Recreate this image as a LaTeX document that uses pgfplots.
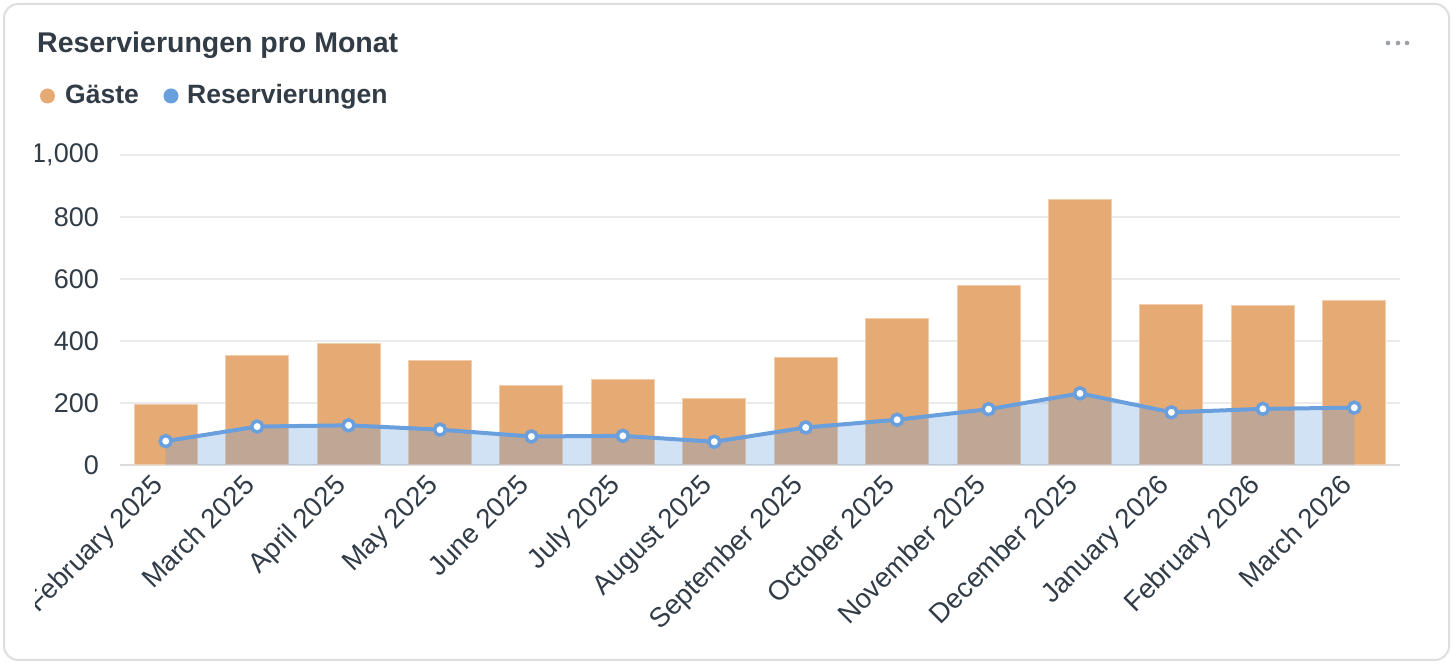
\documentclass[border=0pt]{standalone}
\usepackage{pgfplots}
\pgfplotsset{compat=1.18}
\usepackage{pgfplotstable}
\usepackage{fontspec}
\setmainfont{Liberation Sans}

\definecolor{barorange}{HTML}{E6AA75}
\definecolor{baredge}{HTML}{F3CDAB}
\definecolor{lineblue}{HTML}{6A9FDD}
\definecolor{textdark}{HTML}{313C47}
\definecolor{gridgrey}{HTML}{EBEBEB}
\definecolor{axisgrey}{HTML}{DCDCDC}
\definecolor{cardline}{HTML}{DEDEDE}
\definecolor{dotgrey}{HTML}{9CA1A8}

% Monthly guests and reservations
\pgfplotstableread{
idx gaeste reserv
0   194    77
1   354    124
2   393    128
3   338    114
4   258    92
5   277    94
6   213    75
7   347    121
8   471    146
9   578    180
10  857    231
11  519    170
12  514    181
13  532    185
}\monthly

\begin{document}
\begin{tikzpicture}[x=1pt,y=1pt]
\useasboundingbox (0,0) rectangle (1454,664);
% card frame
\draw[cardline, line width=2pt, rounded corners=14pt] (4,4) rectangle (1449,660);
% title
\node[anchor=base west, inner sep=0pt, text=textdark, font=\fontsize{28.5}{32}\selectfont\bfseries]
  at (37,611) {Reservierungen pro Monat};
% menu dots
\foreach \dx in {1388,1398,1407} \fill[dotgrey] (\dx,621) circle (2.3);
% legend
\fill[barorange] (47.5,568) circle (7.5);
\node[anchor=base west, inner sep=0pt, text=textdark, font=\fontsize{26.5}{30}\selectfont\bfseries]
  at (65,560) {Gäste};
\fill[lineblue] (171,568) circle (7.5);
\node[anchor=base west, inner sep=0pt, text=textdark, font=\fontsize{26.5}{30}\selectfont\bfseries]
  at (187,560) {Reservierungen};

\begin{scope}
\clip (35,6) rectangle (1446,600);
\begin{axis}[
  at={(120pt,199pt)}, anchor=south west,
  scale only axis, width=1280pt, height=310pt,
  xmin=-0.5, xmax=13.5, ymin=0, ymax=1000,
  axis lines*=left,
  y axis line style={draw=none},
  x axis line style={draw=axisgrey, line width=2pt},
  major tick length=0pt,
  ytick={0,200,400,600,800,1000},
  ymajorgrids,
  grid style={draw=gridgrey, line width=1.5pt},
  yticklabel style={font=\fontsize{27}{30}\selectfont, text=textdark,
    anchor=east, inner sep=0pt, xshift=-21pt},
  /pgf/number format/.cd, 1000 sep={,}, assume math mode=true,
  /pgfplots/.cd,
  xtick={0,...,13},
  xticklabels={February 2025, March 2025, April 2025, May 2025, June 2025,
    July 2025, August 2025, September 2025, October 2025, November 2025,
    December 2025, January 2026, February 2026, March 2026},
  xticklabel style={font=\fontsize{27.5}{30}\selectfont, text=textdark,
    anchor=base east, inner sep=0pt, xshift=-1pt, yshift=-22pt, rotate=45},
]
\addplot[ybar, bar width=63pt, fill=barorange, draw=baredge, line width=1pt]
  table[x=idx, y=gaeste] {\monthly};
\addplot[fill=lineblue, fill opacity=0.3, draw=none]
  table[x=idx, y=reserv] {\monthly} \closedcycle;
\addplot[lineblue, line width=4pt, mark=*, mark size=5.5pt,
  mark options={fill=white, draw=lineblue, line width=3.5pt}]
  table[x=idx, y=reserv] {\monthly};
\end{axis}
\end{scope}
\end{tikzpicture}
\end{document}
